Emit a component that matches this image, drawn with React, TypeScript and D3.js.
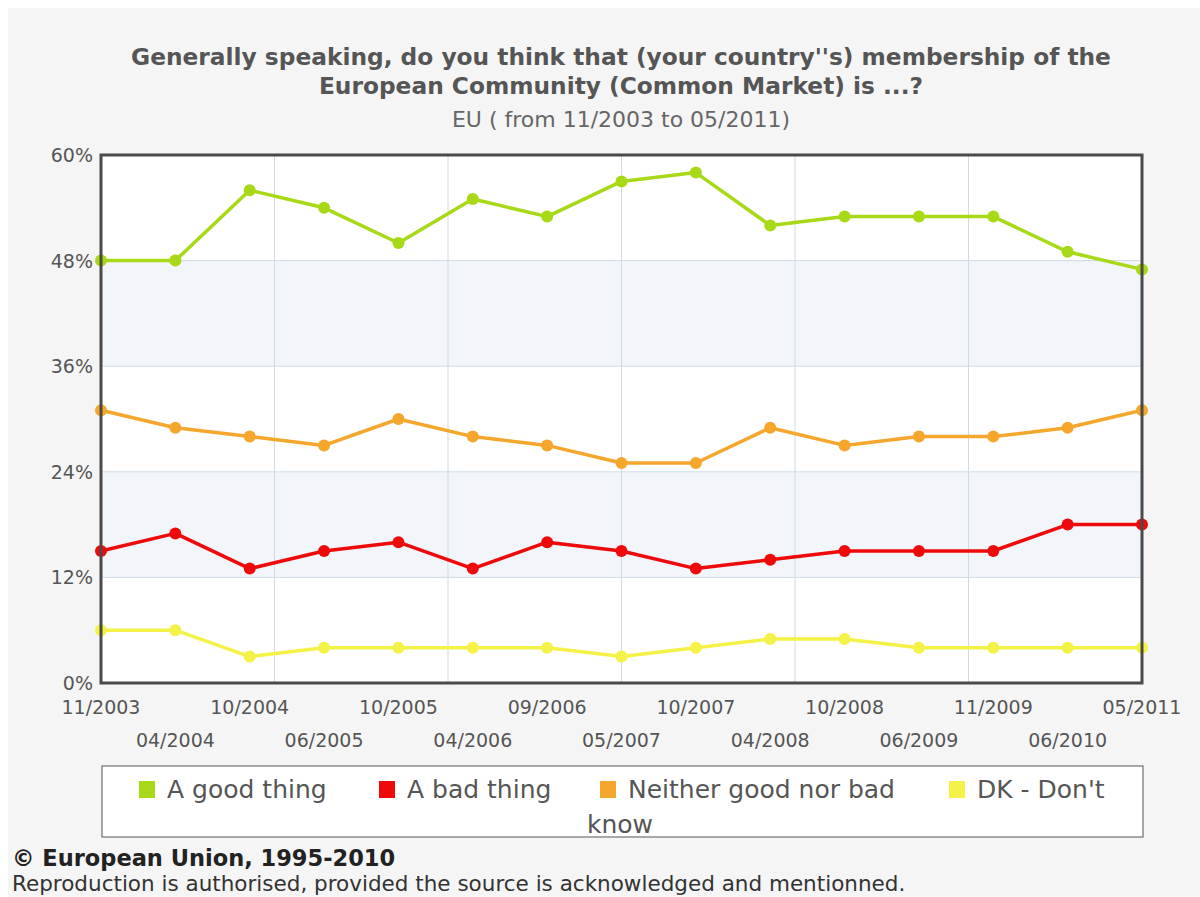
import * as d3 from "d3";
import { useEffect } from "react";

const periods = [
  "11/2003", "04/2004", "10/2004", "06/2005", "10/2005", "04/2006", "09/2006", "05/2007",
  "10/2007", "04/2008", "10/2008", "06/2009", "11/2009", "06/2010", "05/2011",
];
const goodThing = [48, 48, 56, 54, 50, 55, 53, 57, 58, 52, 53, 53, 53, 49, 47];
const badThing = [15, 17, 13, 15, 16, 13, 16, 15, 13, 14, 15, 15, 15, 18, 18];
const neither = [31, 29, 28, 27, 30, 28, 27, 25, 25, 29, 27, 28, 28, 29, 31];
const dontKnow = [6, 6, 3, 4, 4, 4, 4, 3, 4, 5, 5, 4, 4, 4, 4];
const yTicks = [0, 12, 24, 36, 48, 60];

const seriesNames = ["A good thing", "A bad thing", "Neither good nor bad", "DK - Don't know"];
const seriesColors = ["#a8d916", "#ee0a0a", "#f4a72c", "#f4f246"];

const series = [goodThing, badThing, neither, dontKnow].map((values, i) => ({
  name: seriesNames[i],
  color: seriesColors[i],
  values,
}));

const font = "'DejaVu Sans', Verdana, sans-serif";

export default function App() {
  useEffect(() => {
    document.body.style.margin = "0";
    document.body.style.background = "#ffffff";
  }, []);

  const width = 1200;
  const height = 897;
  const margin = { top: 155, right: 58, bottom: 214, left: 101 };

  const x = d3
    .scalePoint<string>()
    .domain(periods)
    .range([margin.left, width - margin.right]);
  const y = d3
    .scaleLinear()
    .domain([0, 60])
    .range([height - margin.bottom, margin.top]);
  // vertical grid divides plot into 6 equal parts
  const gx = d3.scaleLinear().domain([0, 6]).range([margin.left, width - margin.right]);

  const line = d3
    .line<number>()
    .x((_, i) => x(periods[i])!)
    .y((d) => y(d));

  const bands = [
    [12, 24],
    [36, 48],
  ];

  // legend item x positions (layout)
  const legendX = [139, 379, 600, 949];

  return (
    <svg width={width} height={height} style={{ display: "block" }}>
      <rect x={8} y={8} width={width - 8} height={height - 8} fill="#f5f5f5" />

      {/* title */}
      <g fontFamily={font} textAnchor="middle" fill="#555">
        <text x={621} y={65} fontSize={23.3} fontWeight="bold">
          Generally speaking, do you think that (your country''s) membership of the
        </text>
        <text x={621} y={94} fontSize={23.3} fontWeight="bold">
          European Community (Common Market) is ...?
        </text>
        <text x={621} y={127} fontSize={22} fill="#666">
          EU ( from 11/2003 to 05/2011)
        </text>
      </g>

      {/* plot area */}
      <rect
        x={margin.left}
        y={margin.top}
        width={width - margin.left - margin.right}
        height={height - margin.top - margin.bottom}
        fill="#ffffff"
      />
      {bands.map(([a, b]) => (
        <rect
          key={a}
          x={margin.left}
          y={y(b)}
          width={width - margin.left - margin.right}
          height={y(a) - y(b)}
          fill="#f2f6fa"
        />
      ))}
      {yTicks.slice(1, -1).map((t) => (
        <line
          key={t}
          x1={margin.left}
          x2={width - margin.right}
          y1={y(t)}
          y2={y(t)}
          stroke="#cfdae6"
          strokeWidth={1}
        />
      ))}
      {d3.range(1, 6).map((i) => (
        <line
          key={i}
          x1={gx(i)}
          x2={gx(i)}
          y1={margin.top}
          y2={height - margin.bottom}
          stroke="#d3d9e0"
          strokeWidth={1}
        />
      ))}

      {/* series */}
      {series.map((s) => (
        <g key={s.name}>
          <path d={line(s.values)!} fill="none" stroke={s.color} strokeWidth={3.5} strokeLinejoin="round" />
          {s.values.map((v, i) => (
            <circle key={i} cx={x(periods[i])} cy={y(v)} r={6} fill={s.color} />
          ))}
        </g>
      ))}

      {/* frame */}
      <rect
        x={margin.left}
        y={margin.top}
        width={width - margin.left - margin.right}
        height={height - margin.top - margin.bottom}
        fill="none"
        stroke="#4a4a4a"
        strokeWidth={3}
      />

      {/* y ticks */}
      <g fontFamily={font} fontSize={19} fill="#555" textAnchor="end">
        {yTicks.map((t) => (
          <text key={t} x={margin.left - 8} y={y(t) + 7}>
            {t}%
          </text>
        ))}
      </g>

      {/* x ticks, staggered */}
      <g fontFamily={font} fontSize={19} fill="#555" textAnchor="middle">
        {periods.map((p, i) => (
          <text key={p} x={x(p)} y={i % 2 === 0 ? 714 : 747}>
            {p}
          </text>
        ))}
      </g>

      {/* legend */}
      <rect x={102} y={766} width={1041} height={71} fill="#ffffff" stroke="#555" strokeWidth={1} />
      <g fontFamily={font} fontSize={25} fill="#555">
        {series.map((s, i) => (
          <g key={s.name} transform={`translate(${legendX[i]},0)`}>
            <rect x={0} y={781} width={16} height={17} fill={s.color} />
            <text x={28} y={798}>
              {i === 3 ? "DK - Don't" : s.name}
            </text>
          </g>
        ))}
        <text x={620} y={833} textAnchor="middle">
          know
        </text>
      </g>

      {/* footer */}
      <text x={12} y={866} fontFamily={font} fontSize={22.5} fontWeight="bold" fill="#222">
        © European Union, 1995-2010
      </text>
      <text x={12} y={891} fontFamily={font} fontSize={21.5} fill="#333">
        Reproduction is authorised, provided the source is acknowledged and mentionned.
      </text>
    </svg>
  );
}
